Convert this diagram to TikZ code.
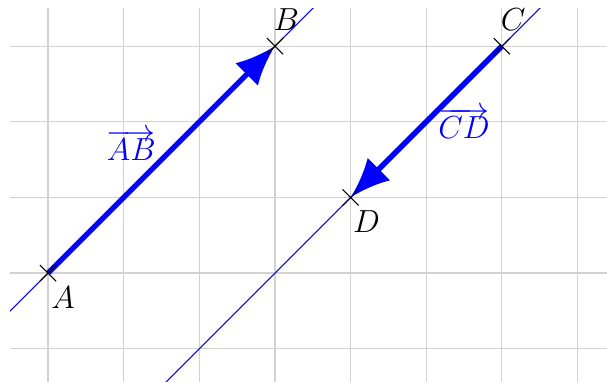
\documentclass[tikz,border=0pt]{standalone}
\usetikzlibrary{arrows.meta,shapes.misc}
\begin{document}
\begin{tikzpicture}[
  gridline/.style={gray!35, line width=0.45pt},
  thinblue/.style={blue, line width=0.4pt},
  vec/.style={blue, line width=2pt, -{Latex[length=15pt,width=12pt]}},
  ptmark/.style={draw=black, line width=0.4pt, cross out, minimum size=0.2cm, inner sep=0pt},
  lbl/.style={font=\fontsize{13}{15}\selectfont},
  vlbl/.style={font=\fontsize{13}{15}\selectfont, text=blue}
]
\useasboundingbox (-0.635,-1.44) rectangle (7.39,3.61);
\begin{scope}
  \clip (-0.5,-1.5) rectangle (7.6,3.5);
  \foreach \x in {0,...,7} \draw[gridline] (\x,-1.6) -- (\x,3.6);
  \foreach \y in {-1,...,3} \draw[gridline] (-0.6,\y) -- (7.6,\y);
  \coordinate (l1s) at (-1,-1);
  \coordinate (l1e) at (4,4);
  \coordinate (l2s) at (1,-2);
  \coordinate (l2e) at (7,4);
  \draw[thinblue] (l1s) -- (l1e);
  \draw[thinblue] (l2s) -- (l2e);
\end{scope}
\coordinate (A) at (0,0);
\coordinate (B) at (3,3);
\coordinate (C) at (6,3);
\coordinate (D) at (4,1);
\draw[vec] (A) -- (B);
\draw[vec] (C) -- (D);
\node[ptmark] (mA) at (A) {};
\node[ptmark] (mB) at (B) {};
\node[ptmark] (mC) at (C) {};
\node[ptmark] (mD) at (D) {};
\node[lbl] (tA) at (0.2,-0.33) {$A$};
\node[lbl] (tB) at (3.15,3.35) {$B$};
\node[lbl] (tC) at (6.15,3.35) {$C$};
\node[lbl] (tD) at (4.21,0.68) {$D$};
\node[vlbl] (vAB) at (1.10,1.69) {$\overrightarrow{AB}$};
\node[vlbl] (vCD) at (5.50,1.98) {$\overrightarrow{CD}$};
\end{tikzpicture}
\end{document}
